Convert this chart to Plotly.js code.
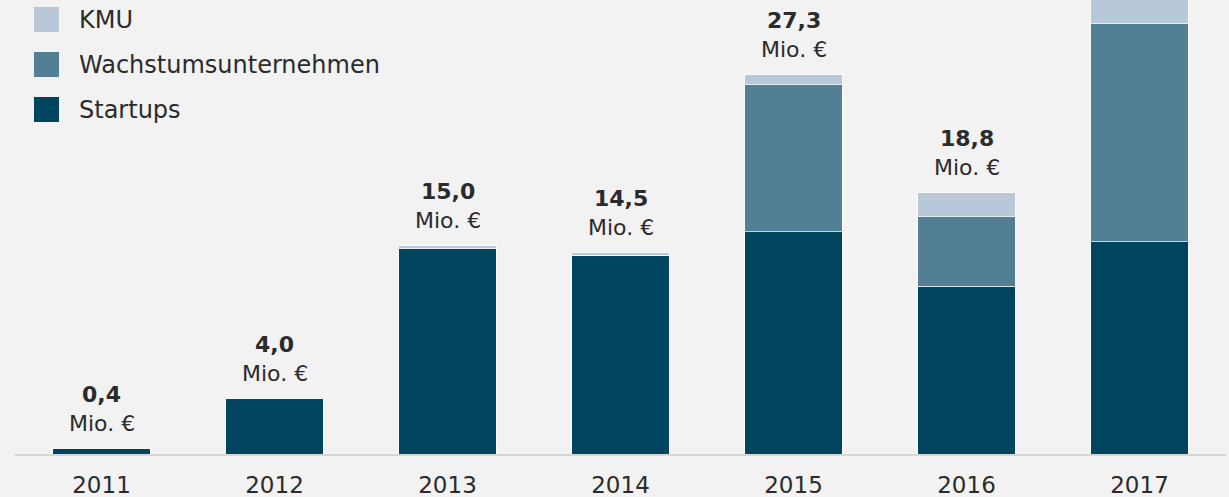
<!DOCTYPE html>
<html>
<head>
<meta charset="utf-8">
<script src="https://cdn.plot.ly/plotly-3.0.1.min.js"></script>
<style>
html,body{margin:0;padding:0;background:#f2f2f2;}
#chart{width:1229px;height:497px;}
</style>
</head>
<body>
<div id="chart"></div>
<script>
// ---- data ----
const years = ['2011', '2012', '2013', '2014', '2015', '2016', '2017'];
const startups = [0.4, 4.0, 14.8, 14.3, 16.0, 12.1, 15.3];
const wachstum = [0, 0, 0, 0, 10.6, 5.0, 15.7];
const kmu = [0, 0, 0.2, 0.2, 0.7, 1.7, 2.4];
const seriesNames = ['Startups', 'Wachstumsunternehmen', 'KMU'];
const seriesColors = ['#00445f', '#537f94', '#b9c8d8'];
const unitLabel = 'Mio. €';

// ---- layout constants ----
const W = 1229, H = 497;
const mL = 15, mR = 3, mT = 0, mB = 43;
const plotW = W - mL - mR, plotH = H - mT - mB;
const yMax = 32.7;
const fontFam = '"DejaVu Sans", "Open Sans", sans-serif';
const textColor = '#2b2b2b';

const seriesValues = [startups, wachstum, kmu];
const traces = seriesValues.map((vals, i) => ({
  type: 'bar',
  name: seriesNames[i],
  x: years,
  y: vals,
  marker: {color: seriesColors[i], line: {color: 'rgba(255,255,255,0.65)', width: 1}},
  showlegend: false,
  hoverinfo: 'x+y+name'
}));

const totals = years.map((_, j) => seriesValues.reduce((s, arr) => s + arr[j], 0));

const annotations = [];
totals.forEach((t, j) => {
  if (t > yMax * 0.95) return;
  annotations.push({
    x: j, y: t, xref: 'x', yref: 'y',
    text: '<b>' + t.toFixed(1).replace('.', ',') + '</b>',
    showarrow: false, xanchor: 'center', yanchor: 'middle', yshift: 54,
    font: {family: fontFam, size: 22, color: textColor}
  });
  annotations.push({
    x: j, y: t, xref: 'x', yref: 'y',
    text: unitLabel,
    showarrow: false, xanchor: 'center', yanchor: 'middle', yshift: 25,
    font: {family: fontFam, size: 22, color: textColor}
  });
});

// legend (drawn in paper coordinates, top item = KMU)
const px2x = px => (px - mL) / plotW;
const py2y = py => (plotH + mT - py) / plotH;
const shapes = [];
const legendOrder = [2, 1, 0];
legendOrder.forEach((si, k) => {
  const top = 7 + k * 45;
  shapes.push({
    type: 'rect', xref: 'paper', yref: 'paper',
    x0: px2x(34), x1: px2x(59), y0: py2y(top + 25), y1: py2y(top),
    fillcolor: seriesColors[si], line: {width: 0}, layer: 'above'
  });
  annotations.push({
    xref: 'paper', yref: 'paper', x: px2x(77), y: py2y(top + 13),
    text: seriesNames[si], showarrow: false, xanchor: 'left', yanchor: 'middle',
    font: {family: fontFam, size: 24, color: textColor}
  });
});

const layout = {
  width: W, height: H,
  margin: {l: mL, r: mR, t: mT, b: mB, pad: 0},
  paper_bgcolor: '#f2f2f2',
  plot_bgcolor: '#f2f2f2',
  barmode: 'stack',
  bargap: 0.434,
  xaxis: {
    type: 'category', range: [-0.5, 6.5],
    showline: true, linecolor: '#d6d6d6', linewidth: 2,
    showgrid: false, zeroline: false, ticks: '',
    ticklabelstandoff: 9,
    tickfont: {family: fontFam, size: 23, color: textColor},
    fixedrange: true
  },
  yaxis: {
    range: [0, yMax], showgrid: false, zeroline: false, showline: false,
    showticklabels: false, ticks: '', fixedrange: true
  },
  shapes: shapes,
  annotations: annotations,
  font: {family: fontFam}
};

Plotly.newPlot('chart', traces, layout, {displayModeBar: false, staticPlot: true});
</script>
</body>
</html>
